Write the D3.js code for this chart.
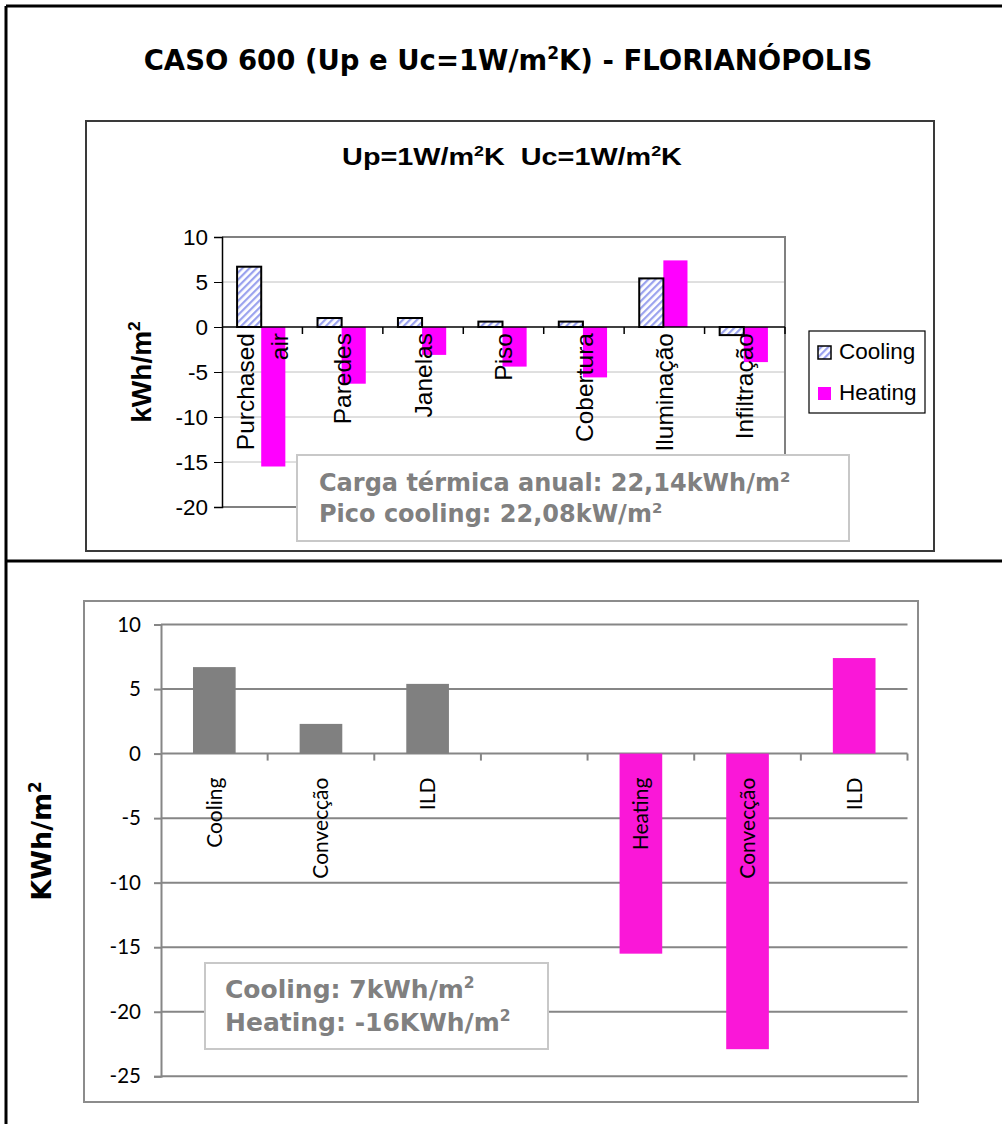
<!DOCTYPE html>
<html><head><meta charset="utf-8">
<script src="https://cdn.jsdelivr.net/npm/d3@7"></script>
<style>html,body{margin:0;padding:0;background:#fff} text{white-space:pre}</style>
</head><body>
<script>
// ---------- DATA ----------
const topCategories = ["Purchased air","Paredes","Janelas","Piso","Cobertura","Iluminação","Infiltração"];
const topSeries = ["Cooling","Heating"];
const topCooling = [6.7, 1.0, 1.0, 0.6, 0.6, 5.4, -0.9];
const topHeating = [-15.5, -6.3, -3.1, -4.4, -5.6, 7.4, -3.9];
const topTicks = [-20,-15,-10,-5,0,5,10];

const botCategories = ["Cooling","Convecção","ILD","","Heating","Convecção","ILD"];
const botValues = [6.7, 2.3, 5.4, null, -15.5, -22.9, 7.4];
const botGroup = ["c","c","c","","h","h","h"];
const botTicks = [-25,-20,-15,-10,-5,0,5,10];

const mainTitle = ["CASO 600 (Up e Uc=1W/m","2","K) - FLORIANÓPOLIS"];
const topTitle = ["Up=1W/m","2","K  Uc=1W/m","2","K"];
const topYTitle = ["kWh/m","2"];
const botYTitle = ["KWh/m","2"];
const topNote = [["Carga térmica anual: 22,14kWh/m","2"],["Pico cooling: 22,08kW/m","2"]];
const botNote = [["Cooling: 7kWh/m","2"],["Heating: -16KWh/m","2"]];

// ---------- SETUP ----------
const W = 1002, H = 1124;
const svg = d3.select("body").append("svg").attr("width", W).attr("height", H)
  .style("display","block");
svg.append("rect").attr("width",W).attr("height",H).attr("fill","#fff");

const defs = svg.append("defs");
const pat = defs.append("pattern").attr("id","hatch").attr("patternUnits","userSpaceOnUse")
  .attr("width",5).attr("height",5).attr("patternTransform","rotate(45)");
pat.append("rect").attr("width",5).attr("height",5).attr("fill","#fff");
pat.append("rect").attr("width",2.2).attr("height",5).attr("fill","#9aa2ee");

// helper: text with superscripts; parts alternate normal / superscript
function supText(sel, parts) {
  parts.forEach((p, i) => {
    const sup = i % 2 === 1;
    const t = sel.append("tspan").text(p);
    if (sup) t.attr("dy","-0.62em").style("font-size","0.62em");
    else if (i > 0) t.attr("dy","0.385em");
  });
  return sel;
}
const tickFmt = d => String(d);

// outer frame
svg.append("path").attr("d","M6,6H1002M6,6V1124M6,561H1002")
  .attr("stroke","#000").attr("stroke-width",3).attr("fill","none");

// main title
supText(svg.append("text").attr("x",508).attr("y",70).attr("text-anchor","middle")
  .style("font-family","DejaVu Sans").style("font-weight","bold").style("font-size","27.5px"), mainTitle);

// ---------- TOP CHART ----------
svg.append("rect").attr("x",86).attr("y",121).attr("width",848).attr("height",430)
  .attr("fill","#fff").attr("stroke","#3a3a3a").attr("stroke-width",2);

supText(svg.append("text").attr("transform","translate(512,165) scale(1.2,1)").attr("text-anchor","middle")
  .style("font-family","Liberation Sans, Arial").style("font-weight","bold").style("font-size","24px"), topTitle);

const tX0 = 222, tX1 = 785;
const ty = d3.scaleLinear().domain([-20,10]).range([507,237]);
const tx = d3.scaleBand().domain(topCategories).range([tX0,tX1]).padding(0);
const groupW = tx.bandwidth()*0.6;
const txs = d3.scaleBand().domain(topSeries).range([0,groupW]).padding(0);

const tg = svg.append("g");
// gridlines
tg.selectAll("line.grid").data(topTicks.filter(d=>d!==0 && d!==-20 && d!==10)).join("line")
  .attr("x1",tX0).attr("x2",tX1).attr("y1",d=>ty(d)).attr("y2",d=>ty(d))
  .attr("stroke","#c0c0c0").attr("stroke-width",1);
// plot border
tg.append("path").attr("d",`M${tX0},${ty(10)}H${tX1}V${ty(-20)}H${tX0}`)
  .attr("stroke","#808080").attr("stroke-width",2).attr("fill","none");

// bars
const topData = topCategories.map((c,i)=>({c, Cooling: topCooling[i], Heating: topHeating[i]}));
const off = (tx.bandwidth()-groupW)/2 - 1;
tg.selectAll("rect.h").data(topData).join("rect")
  .attr("x",d=>tx(d.c)+off+txs("Heating")).attr("width",txs.bandwidth())
  .attr("y",d=>ty(Math.max(0,d.Heating))).attr("height",d=>Math.abs(ty(d.Heating)-ty(0)))
  .attr("fill","#ff00ff");
tg.selectAll("rect.c").data(topData).join("rect")
  .attr("x",d=>tx(d.c)+off+txs("Cooling")).attr("width",txs.bandwidth())
  .attr("y",d=>ty(Math.max(0,d.Cooling))).attr("height",d=>Math.abs(ty(d.Cooling)-ty(0)))
  .attr("fill","url(#hatch)").attr("stroke","#000").attr("stroke-width",2);

// y axis
const tyAxis = d3.axisLeft(ty).tickValues(topTicks).tickSize(8).tickFormat(tickFmt);
const tya = tg.append("g").attr("transform",`translate(${tX0},0)`).call(tyAxis);
tya.select(".domain").attr("stroke","#000").attr("stroke-width",1.5);
tya.selectAll(".tick line").attr("stroke","#000");
tya.selectAll(".tick text").attr("x",-14).style("font-family","Liberation Sans, Arial")
  .style("font-size","22.5px").attr("fill","#000");
// zero axis
tg.append("line").attr("x1",tX0).attr("x2",tX1).attr("y1",ty(0)).attr("y2",ty(0))
  .attr("stroke","#000").attr("stroke-width",1.5);
tg.selectAll("line.ztick").data(topCategories).join("line")
  .attr("x1",d=>tx(d)+tx.bandwidth()).attr("x2",d=>tx(d)+tx.bandwidth())
  .attr("y1",ty(0)).attr("y2",ty(0)+7).attr("stroke","#000").attr("stroke-width",1.5);

// category labels (rotated)
topCategories.forEach((c)=>{
  const lines = c.split(" ");
  const cx = tx(c)+tx.bandwidth()/2;
  lines.forEach((ln,j)=>{
    const lx = cx + (j-(lines.length-1)/2)*34;
    tg.append("text").attr("transform",`translate(${lx},${ty(0)+6}) rotate(-90)`)
      .attr("text-anchor","end").attr("dy","0.35em")
      .style("font-family","Liberation Sans, Arial").style("font-size","24.5px").text(ln);
  });
});

// y title
supText(tg.append("text").attr("transform",`translate(151,372) rotate(-90)`).attr("text-anchor","middle")
  .style("font-family","Liberation Sans, Arial").style("font-weight","bold").style("font-size","28px"), topYTitle);

// legend
const lg = svg.append("g");
lg.append("rect").attr("x",809).attr("y",331).attr("width",116).attr("height",82)
  .attr("fill","#fff").attr("stroke","#000").attr("stroke-width",1.2);
topSeries.forEach((s,i)=>{
  const yy = 346 + i*41;
  lg.append("rect").attr("x",818).attr("y",yy).attr("width",13).attr("height",13)
    .attr("fill", s==="Cooling" ? "url(#hatch)" : "#ff00ff")
    .attr("stroke", s==="Cooling" ? "#000" : "none").attr("stroke-width",1.5);
  lg.append("text").attr("x",839).attr("y",yy+13).style("font-family","Liberation Sans, Arial")
    .style("font-size","22.5px").text(s);
});

// annotation
svg.append("rect").attr("x",297).attr("y",455).attr("width",552).attr("height",86)
  .attr("fill","#fff").attr("stroke","#c8c8c8").attr("stroke-width",2);
topNote.forEach((ln,i)=>{
  supText(svg.append("text").attr("x",319).attr("y",491+i*31).attr("fill","#808080")
    .style("font-family","DejaVu Sans").style("font-weight","bold").style("font-size","24px"), ln);
});

// ---------- BOTTOM CHART ----------
svg.append("rect").attr("x",84).attr("y",601).attr("width",834).attr("height",501)
  .attr("fill","#fff").attr("stroke","#8c8c8c").attr("stroke-width",2);

const bX0 = 161, bX1 = 907.5;
const by = d3.scaleLinear().domain([-25,10]).range([1076.3,624.5]);
const idx = botCategories.map((d,i)=>i);
const bx = d3.scaleBand().domain(idx).range([bX0,bX1]).paddingInner(0.6).paddingOuter(0.3);
const bg = svg.append("g");

bg.selectAll("line.grid").data(botTicks).join("line")
  .attr("x1",bX0).attr("x2",bX1).attr("y1",d=>by(d)).attr("y2",d=>by(d))
  .attr("stroke","#868686").attr("stroke-width",2);

const byAxis = d3.axisLeft(by).tickValues(botTicks).tickSize(7).tickFormat(tickFmt);
const bya = bg.append("g").attr("transform",`translate(${bX0},0)`).call(byAxis);
bya.select(".domain").attr("stroke","#868686").attr("stroke-width",2);
bya.selectAll(".tick line").attr("stroke","#868686").attr("stroke-width",2);
bya.selectAll(".tick text").attr("x",-20).style("font-family","Lato").style("font-size","20.5px").attr("fill","#000");

// zero axis ticks
const bStep = (bX1-bX0)/idx.length;
bg.selectAll("line.zt").data(idx).join("line")
  .attr("x1",d=>bX0+(d+1)*bStep).attr("x2",d=>bX0+(d+1)*bStep)
  .attr("y1",by(0)).attr("y2",by(0)+7).attr("stroke","#868686").attr("stroke-width",2);

const botData = idx.filter(i=>botValues[i]!==null).map(i=>({i, v: botValues[i], g: botGroup[i]}));
bg.selectAll("rect.bar").data(botData).join("rect")
  .attr("x",d=>bx(d.i)).attr("width",bx.bandwidth())
  .attr("y",d=>by(Math.max(0,d.v))).attr("height",d=>Math.abs(by(d.v)-by(0)))
  .attr("fill",d=>d.g==="c" ? "#808080" : "#fa17d8");

idx.forEach(i=>{
  if (!botCategories[i]) return;
  bg.append("text").attr("transform",`translate(${bx(i)+bx.bandwidth()/2},${by(0)+24}) rotate(-90)`)
    .attr("text-anchor","end").attr("dy","0.35em")
    .style("font-family","Lato").style("font-size","21px").text(botCategories[i]);
});

supText(bg.append("text").attr("transform",`translate(51,841) rotate(-90)`).attr("text-anchor","middle")
  .style("font-family","DejaVu Sans").style("font-weight","bold").style("font-size","27px"), botYTitle);

svg.append("rect").attr("x",205).attr("y",963).attr("width",343).attr("height",86)
  .attr("fill","#fff").attr("stroke","#c8c8c8").attr("stroke-width",2);
botNote.forEach((ln,i)=>{
  supText(svg.append("text").attr("x",225).attr("y",998+i*33).attr("fill","#808080")
    .style("font-family","DejaVu Sans").style("font-weight","bold").style("font-size","25px"), ln);
});
</script>
</body></html>
